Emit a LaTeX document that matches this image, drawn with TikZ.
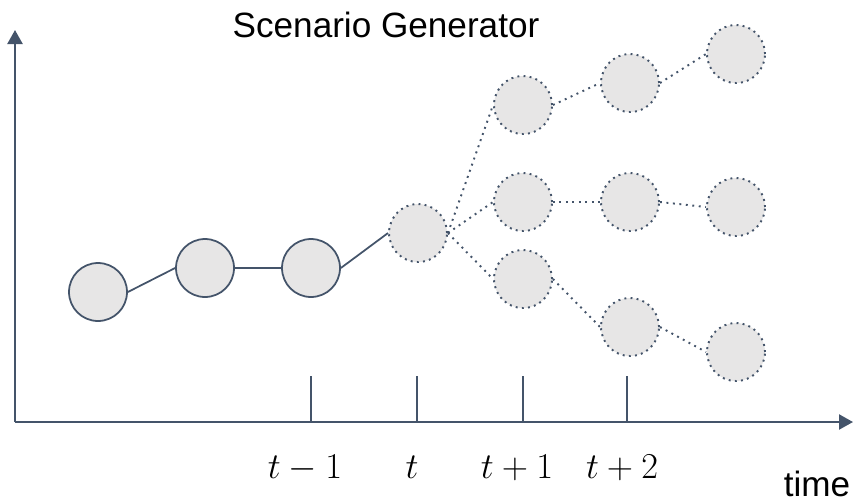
\documentclass[tikz,border=0pt]{standalone}
\usepackage{amsmath}
\usepackage{fontspec}
\newfontfamily\arialfont{Liberation Sans}
\usetikzlibrary{arrows.meta}
\definecolor{axisgray}{HTML}{44546A}
\definecolor{nodefill}{HTML}{E7E6E6}

\begin{document}
\begin{tikzpicture}[x=0.02cm, y=-0.02cm, >={Triangle[length=0.28cm, width=0.3cm]},
    axisline/.style={axisgray, line width=1.3pt},
    tickline/.style={axisgray, line width=0.8pt},
    past/.style={circle, draw=axisgray, fill=nodefill, line width=1pt, minimum size=1.16cm, inner sep=0pt},
    future/.style={past, line width=1.1pt, dash pattern=on 1.1pt off 2.4pt},
    link/.style={axisgray, line width=1pt},
    branch/.style={axisgray, line width=1.1pt, dash pattern=on 1.1pt off 2.6pt},
    lbl/.style={font=\fontsize{20}{24}\selectfont, anchor=base}]
  \useasboundingbox (0,0) rectangle (854,501);

  \coordinate (origin) at (15,422);
  \coordinate (ytop) at (15,30);
  \coordinate (xend) at (853,422);
  \draw[axisline, ->] (origin) -- (ytop);
  \draw[axisline, ->] (origin) -- (xend);

  \foreach \x/\lx/\name/\txt in {311/305/tm/t-1, 417/412/t/t, 523/517/tp/t+1, 627/622/tpp/t+2} {
    \coordinate (\name top) at (\x,376);
    \draw[tickline] (\name top) -- (\name top |- origin);
    \node[lbl] (\name lbl) at (\lx,478) {$\txt$};
  }

  \node[lbl, font=\arialfont\fontsize{20}{24}\selectfont] (title) at (386,37) {Scenario Generator};
  \node[lbl, font=\arialfont\fontsize{20}{24}\selectfont] (timelbl) at (817,496) {time};

  \node[past] (p1) at (98,292) {};
  \node[past] (p2) at (205,268) {};
  \node[past] (p3) at (311,268) {};
  \node[future] (n0) at (418,233) {};
  \node[future] (a1) at (523,105) {};
  \node[future] (a2) at (630,83) {};
  \node[future] (a3) at (736,54) {};
  \node[future] (b1) at (523,202) {};
  \node[future] (b2) at (630,202) {};
  \node[future] (b3) at (736,207) {};
  \node[future] (c1) at (523,279) {};
  \node[future] (c2) at (630,327) {};
  \node[future] (c3) at (736,352) {};

  \draw[link] (p1.east) -- (p2.west);
  \draw[link] (p2.east) -- (p3.west);
  \draw[link] (p3.east) -- (n0.west);
  \foreach \u/\v in {n0/a1, n0/b1, n0/c1, a1/a2, a2/a3, b1/b2, b2/b3, c1/c2, c2/c3}
    \draw[branch] (\u.east) -- (\v.west);
\end{tikzpicture}
\end{document}
